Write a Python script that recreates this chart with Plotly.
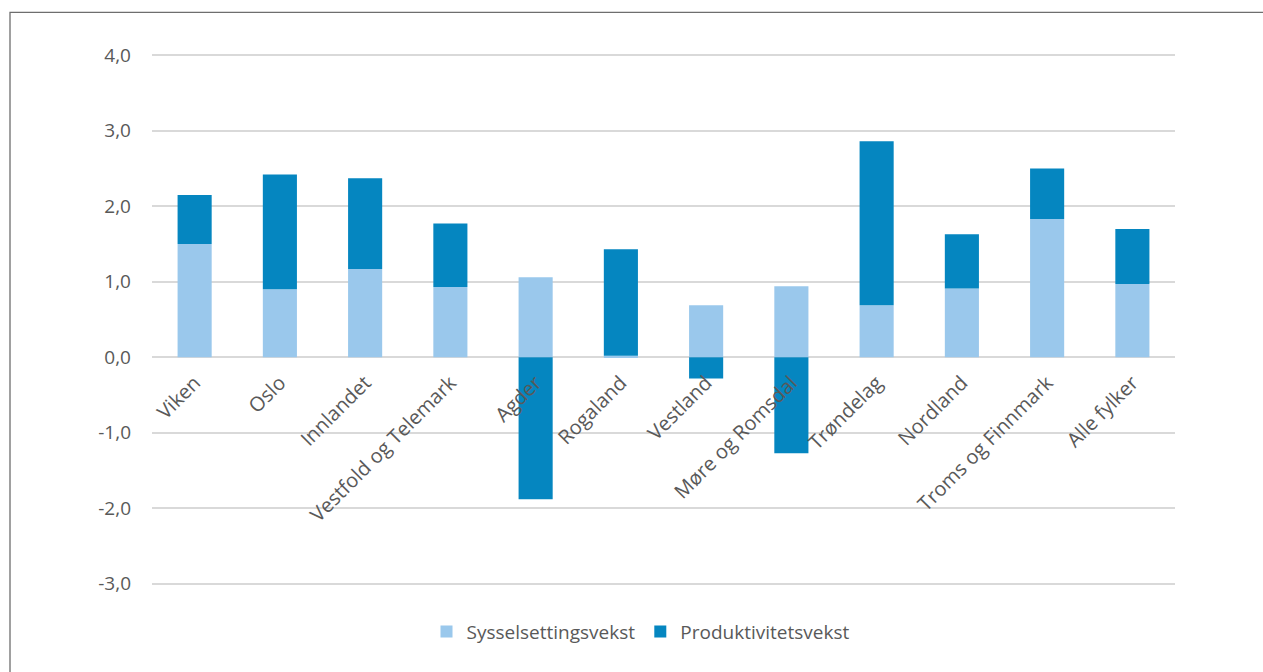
import plotly.graph_objects as go

categories = ["Viken", "Oslo", "Innlandet", "Vestfold og Telemark", "Agder", "Rogaland",
              "Vestland", "Møre og Romsdal", "Trøndelag", "Nordland", "Troms og Finnmark", "Alle fylker"]
sysselsetting = [1.50, 0.90, 1.17, 0.93, 1.06, 0.02, 0.69, 0.94, 0.69, 0.91, 1.83, 0.97]
produktivitet = [0.65, 1.52, 1.20, 0.84, -1.88, 1.41, -0.28, -1.27, 2.17, 0.72, 0.67, 0.73]
y_ticks = [-3, -2, -1, 0, 1, 2, 3, 4]
y_ticklabels = ["-3,0", "-2,0", "-1,0", "0,0", "1,0", "2,0", "3,0", "4,0"]

W, H = 1263, 672
ymin, ymax = -3.03, 4.03
unit = (584 - 55) / 7.0
L, R = 152, 1263 - 1175
T = 55 - (ymax - 4) * unit
B = H - (584 + (-3 - ymin) * unit)
pw, ph = W - L - R, H - T - B

def py(v):
    """pixel row -> paper y"""
    return (H - B - v) / ph

LIGHT = "#9AC8EC"
DARK = "#0586C0"
TXT = "#595959"
FONT = "Open Sans"

fig = go.Figure()
fig.add_trace(go.Bar(x=categories, y=sysselsetting, name="Sysselsettingsvekst",
                     marker=dict(color=LIGHT, line=dict(width=0))))
fig.add_trace(go.Bar(x=categories, y=produktivitet, name="Produktivitetsvekst",
                     marker=dict(color=DARK, line=dict(width=0))))

fig.update_layout(
    width=W, height=H,
    margin=dict(l=L, r=R, t=T, b=B, autoexpand=False),
    barmode="relative", bargap=0.6,
    plot_bgcolor="white", paper_bgcolor="white",
    font=dict(family=FONT, size=19, color=TXT),
    showlegend=True,
    legend=dict(orientation="h", x=(641 - L) / pw, xanchor="center",
                y=py(632), yanchor="middle",
                font=dict(family=FONT, size=19, color=TXT), traceorder="normal"),
    xaxis=dict(anchor="free", position=(0 - ymin) / (ymax - ymin), tickangle=-45,
               showline=False, ticks="", showgrid=False, ticklabelstandoff=9,
               tickfont=dict(family=FONT, size=20, color=TXT)),
    yaxis=dict(range=[ymin, ymax], tickvals=y_ticks, ticktext=y_ticklabels,
               showgrid=True, gridcolor="#D9D9D9", gridwidth=1.5, zeroline=False,
               showline=False, ticks="", ticklabelstandoff=20,
               tickfont=dict(family=FONT, size=19, color=TXT)),
)

# outer chart border
fig.add_shape(type="rect", xref="paper", yref="paper",
              x0=(10 - L) / pw, x1=(1275 - L) / pw,
              y0=py(690), y1=py(12),
              line=dict(color="#6E6E6E", width=1.3), fillcolor="rgba(0,0,0,0)", layer="below")

fig.write_html("out.html", config={"displayModeBar": False},
               post_script="document.body.style.margin='0';document.body.style.overflow='hidden';")
